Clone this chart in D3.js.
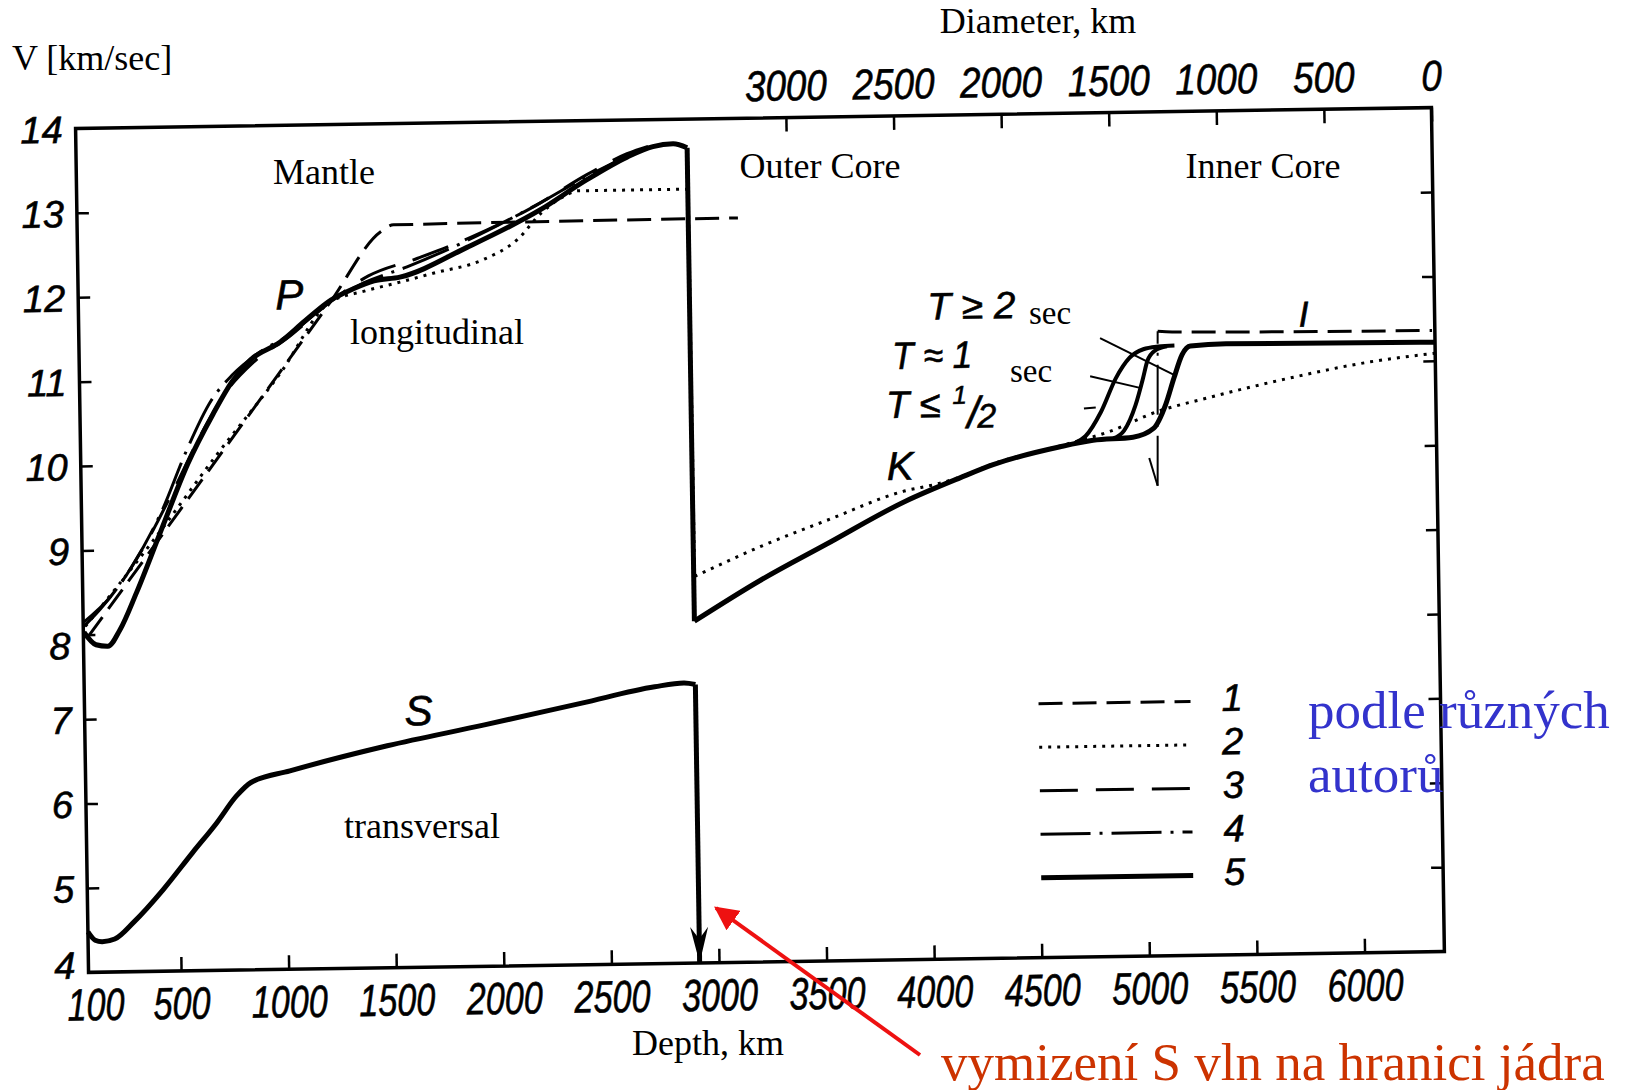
<!DOCTYPE html>
<html><head><meta charset="utf-8">
<script src="https://cdn.jsdelivr.net/npm/d3@7"></script>
<style>
html,body{margin:0;padding:0;background:#fff;}
svg{display:block;}
</style></head>
<body>
<svg id="chart" width="1630" height="1090"></svg>
<script>
// ---------------- data ----------------
const depthTickLabels = [100,500,1000,1500,2000,2500,3000,3500,4000,4500,5000,5500,6000];
const radiusTicks = [3000,2500,2000,1500,1000,500,0];
const velocityTicks = [4,5,6,7,8,9,10,11,12,13,14];
const rightTicks = [5,6,7,8,9,10,11,12,13];
const legendKeys = ["1","2","3","4","5"];

// curve 5 (solid) — P in mantle, K in outer core, inner core
const p5Mantle = [[73,8.03],[128,7.88],[183,7.86],[240,8.05],[320,8.49],[443,9.25],[566,10.0],[688,10.59],[778,10.97],[868,11.23],[1004,11.43],[1123,11.68],[1244,11.92],[1349,12.05],[1446,12.14],[1566,12.18],[1880,12.52],[2222,12.95],[2442,13.30],[2630,13.56],[2751,13.68],[2845,13.71],[2910,13.66]];
const p5Drop = [[2910,13.66],[2910,8.05]];
const p5Core = [[2910,8.05],[3218,8.52],[3530,8.94],[3897,9.43],[4154,9.70],[4309,9.85],[4622,10.05],[4775,10.12],[4961,10.15],[5057,10.25],[5115,10.53],[5155,10.84],[5195,11.12],[5234,11.22],[5400,11.24],[6371,11.22]];
const transA = [[4690,10.09],[4740,10.17],[4815,10.46],[4885,10.85],[4950,11.09],[5015,11.19],[5085,11.22],[5160,11.23]];
const transB = [[4870,10.14],[4920,10.23],[4975,10.53],[5012,10.85],[5033,11.05],[5068,11.17],[5125,11.22]];
// curve 5 — S
const s5 = [[70,4.48],[103,4.38],[136,4.36],[194,4.39],[285,4.59],[424,4.97],[562,5.40],[677,5.75],[769,6.06],[838,6.22],[1020,6.35],[1474,6.63],[1927,6.86],[2381,7.10],[2721,7.28],[2857,7.32],[2910,7.30]];
const s5Drop = [[2910,7.30],[2910,4.0]];

// curve 1 (long dashes)
const c1Mantle = [[93,7.98],[1242,11.9],[1480,12.72],[1540,12.8],[3141,12.82]];
const c1InnerV = [[5072,9.57],[5083,11.40]];
const c1Inner = [[5083,11.40],[5150,11.39],[6358,11.36]];
const c1Vmark = [[5035,9.9],[5072,9.57]];
// curve 2 (dotted)
const c2Mantle = [[80,8.1],[400,9.1],[700,10.1],[1000,11.05],[1242,11.9],[1400,12.02],[1566,12.12],[1721,12.22],[1953,12.37],[2113,12.6],[2230,12.92],[2330,13.1],[2400,13.17],[2910,13.17]];
const c2Drop = [[2912,13.17],[2914,8.58]];
const c2Core = [[2914,8.58],[3220,8.92],[3532,9.22],[3889,9.55],[4061,9.64],[4154,9.71],[4309,9.86],[4622,10.06],[4850,10.22],[5077,10.45],[5307,10.6],[5689,10.82],[6070,11.0],[6371,11.09]];
// curve 3 (long dash, long gap)
const c3Mantle = [[73,8.15],[200,8.45],[350,9.0],[500,9.7],[620,10.3],[750,10.85],[880,11.2],[1050,11.5],[1242,11.9],[1420,12.2],[1650,12.4],[1900,12.64],[2200,13.0],[2442,13.36],[2630,13.6],[2751,13.7]];
// curve 4 (dash-dot)
const c4Mantle = [[73,8.1],[150,8.3],[300,8.8],[443,9.45],[560,10.15],[680,10.75],[780,11.05],[900,11.3],[1050,11.52],[1242,11.9],[1400,12.12],[1600,12.3],[1880,12.6],[2220,13.03],[2442,13.34],[2630,13.57]];

// pointer lines for period labels
const pointers = [[[4815,11.33],[5156,10.88]],[[4766,10.88],[5002,10.73]],[[4735,10.50],[4790,10.51]]];

// ---------------- layout ----------------
const frame = {left:82, top:118, right:1438, bottom:962};
const x = d3.scaleLinear().domain([70,6371]).range([frame.left, frame.right]);
const xR = d3.scaleLinear().domain([6371-70,0]).range([frame.left, frame.right]);
const y = d3.scaleLinear().domain([4,14]).range([frame.bottom, frame.top]);

const styles = {
  "1":{w:3, dash:"24,10"},
  "2":{w:3, dash:"3,6"},
  "3":{w:3, dash:"38,18"},
  "4":{w:3, dash:"50,9,3,9"},
  "5":{w:5, dash:null}
};

const svg = d3.select("#chart");
const G = svg.append("g").attr("transform","rotate(-0.88,760,541)");

const smooth = d3.line().x(d=>x(d[0])).y(d=>y(d[1])).curve(d3.curveMonotoneX);
const straight = d3.line().x(d=>x(d[0])).y(d=>y(d[1]));

const sansItalic = "'Liberation Sans', Arimo, Arial, sans-serif";
const serif = "'Liberation Serif', 'Times New Roman', serif";
const fmt = d3.format("d");

// frame
G.append("rect").attr("x",frame.left).attr("y",frame.top)
 .attr("width",frame.right-frame.left).attr("height",frame.bottom-frame.top)
 .attr("fill","none").attr("stroke","#000").attr("stroke-width",3.5);

function styleTicks(sel, size){
  sel.select(".domain").remove();
  sel.selectAll(".tick line").attr("stroke","#000").attr("stroke-width",2.5);
  sel.selectAll(".tick text").attr("fill","#000").attr("font-family",sansItalic)
    .attr("font-style","italic").attr("font-size",size)
    .attr("stroke","#000").attr("stroke-width",0.6);
}

// bottom axis
const axB = G.append("g").attr("transform",`translate(0,${frame.bottom})`)
  .call(d3.axisBottom(x).tickValues(depthTickLabels).tickFormat(fmt).tickSizeInner(-14).tickSizeOuter(0).tickPadding(16));
styleTicks(axB, 45);
axB.selectAll(".tick text").attr("textLength",d=>String(d).length*19).attr("lengthAdjust","spacingAndGlyphs");
axB.selectAll(".tick line").filter(d=>d===100).remove();

// top axis (radius)
const axT = G.append("g").attr("transform",`translate(0,${frame.top})`)
  .call(d3.axisTop(xR).tickValues(radiusTicks).tickFormat(fmt).tickSizeInner(-14).tickSizeOuter(0).tickPadding(17));
styleTicks(axT, 43);
axT.selectAll(".tick text").attr("textLength",d=>String(d).length*20.5).attr("lengthAdjust","spacingAndGlyphs");

// left axis
const labelShift = {8:10, 4:-8};
const axL = G.append("g").attr("transform",`translate(${frame.left},0)`)
  .call(d3.axisLeft(y).tickValues(velocityTicks).tickFormat(fmt).tickSizeInner(-12).tickSizeOuter(0).tickPadding(13));
styleTicks(axL, 38);
axL.selectAll(".tick text").attr("y",d=>labelShift[d]||0).attr("dy","0.36em");
axL.selectAll(".tick line").filter(d=>d===4||d===14).remove();

// right axis ticks
const axR = G.append("g").attr("transform",`translate(${frame.right},0)`)
  .call(d3.axisRight(y).tickValues(rightTicks).tickSizeInner(-12).tickSizeOuter(0).tickFormat(""));
styleTicks(axR, 38);

// curves
function draw(data, key, gen, extra){
  const st = styles[key];
  const p = G.append("path").attr("d",gen(data)).attr("fill","none")
    .attr("stroke","#000").attr("stroke-width",(extra&&extra.w)||st.w)
    .attr("stroke-linejoin","round");
  if(st.dash) p.attr("stroke-dasharray",st.dash);
  return p;
}
draw(c3Mantle,"3",smooth);
draw(c4Mantle,"4",smooth);
draw(c2Mantle,"2",smooth);
draw(c2Drop,"2",straight);
draw(c2Core,"2",smooth);
draw(c1Mantle,"1",smooth);
draw(c1Inner,"1",smooth);
draw(c1InnerV,"4",straight,{w:2});
draw(c1Vmark,"5",straight,{w:2});
draw(p5Mantle,"5",smooth);
draw(p5Drop,"5",straight);
draw(p5Core,"5",smooth);
draw(transA,"5",smooth,{w:4});
draw(transB,"5",smooth,{w:4});
draw(s5,"5",smooth);
draw(s5Drop,"5",straight);

// arrowhead at bottom of S drop
{
  const ax = x(s5Drop[1][0]), ay = y(s5Drop[1][1]);
  G.append("path").attr("d",`M${ax},${ay} L${ax-9},${ay-36} L${ax},${ay-24} L${ax+9},${ay-36} Z`).attr("fill","#000");
}

// pointer lines
pointers.forEach(p=>{
  G.append("path").attr("d",straight(p)).attr("stroke","#000").attr("stroke-width",2).attr("fill","none");
});

// italic labels (scan layer)
function itext(t, px, py, size, tl){
  const e = G.append("text").attr("x",px).attr("y",py).text(t)
    .attr("font-family",sansItalic).attr("font-style","italic").attr("font-size",size)
    .attr("fill","#000").attr("stroke","#000").attr("stroke-width",0.6);
  if(tl) e.attr("textLength",tl).attr("lengthAdjust","spacingAndGlyphs");
  return e;
}
itext("P",279,302,42);
itext("K",888,482,40);
itext("S",402,720,42);
itext("I",1302,335,36);
itext("T ≥ 2",931,322,38,88);
itext("T ≈ 1",895,371,38,80);
{
  const t = G.append("text").attr("x",888).attr("y",420)
    .attr("font-family",sansItalic).attr("font-style","italic").attr("font-size",38)
    .attr("fill","#000").attr("stroke","#000").attr("stroke-width",0.6);
  t.append("tspan").text("T ≤");
  t.append("tspan").attr("dx",12).attr("dy",-13).attr("font-size",26).text("1");
  t.append("tspan").attr("dx",0).attr("dy",24).attr("font-size",44).text("/");
  t.append("tspan").attr("dx",-2).attr("dy",0).attr("font-size",34).text("2");
}

// legend
const lg = G.append("g").attr("transform","translate(1036,708)");
legendKeys.forEach((k,i)=>{
  const st = styles[k];
  const l = lg.append("line").attr("x1",0).attr("x2",152).attr("y1",i*43.5).attr("y2",i*43.5)
    .attr("stroke","#000").attr("stroke-width",st.w);
  if(st.dash) l.attr("stroke-dasharray",st.dash);
  lg.append("text").attr("x",183).attr("y",i*43.5+10).text(k)
    .attr("font-family",sansItalic).attr("font-style","italic").attr("font-size",38)
    .attr("fill","#000").attr("stroke","#000").attr("stroke-width",0.6);
});

// ---------------- overlay labels (not rotated) ----------------
function stext(t, px, py, size, anchor, color){
  return svg.append("text").attr("x",px).attr("y",py).text(t)
    .attr("font-family",serif).attr("font-size",size)
    .attr("text-anchor",anchor||"start").attr("fill",color||"#000");
}
stext("V [km/sec]",12,70,36);
stext("Diameter, km",1038,33,36,"middle");
stext("Mantle",324,184,36,"middle");
stext("Outer Core",820,178,36,"middle");
stext("Inner Core",1263,178,36,"middle");
stext("longitudinal",437,344,36,"middle");
stext("transversal",422,838,36,"middle");
stext("Depth, km",708,1055,36,"middle");
stext("sec",1029,324,33);
stext("sec",1010,382,33);
stext("podle různých",1308,728,53,"start","#3333cc");
stext("autorů",1308,792,53,"start","#3333cc");
stext("vymizení S vln na hranici jádra",941,1080,53,"start","#cc3300");

// red arrow
svg.append("defs").append("marker").attr("id","ah").attr("viewBox","0 0 10 10")
  .attr("refX",9).attr("refY",5).attr("markerWidth",6).attr("markerHeight",6)
  .attr("orient","auto").attr("markerUnits","strokeWidth")
  .append("path").attr("d","M0,0 L10,5 L0,10 Z").attr("fill","#ee1111");
svg.append("line").attr("x1",920).attr("y1",1055).attr("x2",716).attr("y2",908)
  .attr("stroke","#ee1111").attr("stroke-width",4).attr("marker-end","url(#ah)");
</script>
</body></html>
